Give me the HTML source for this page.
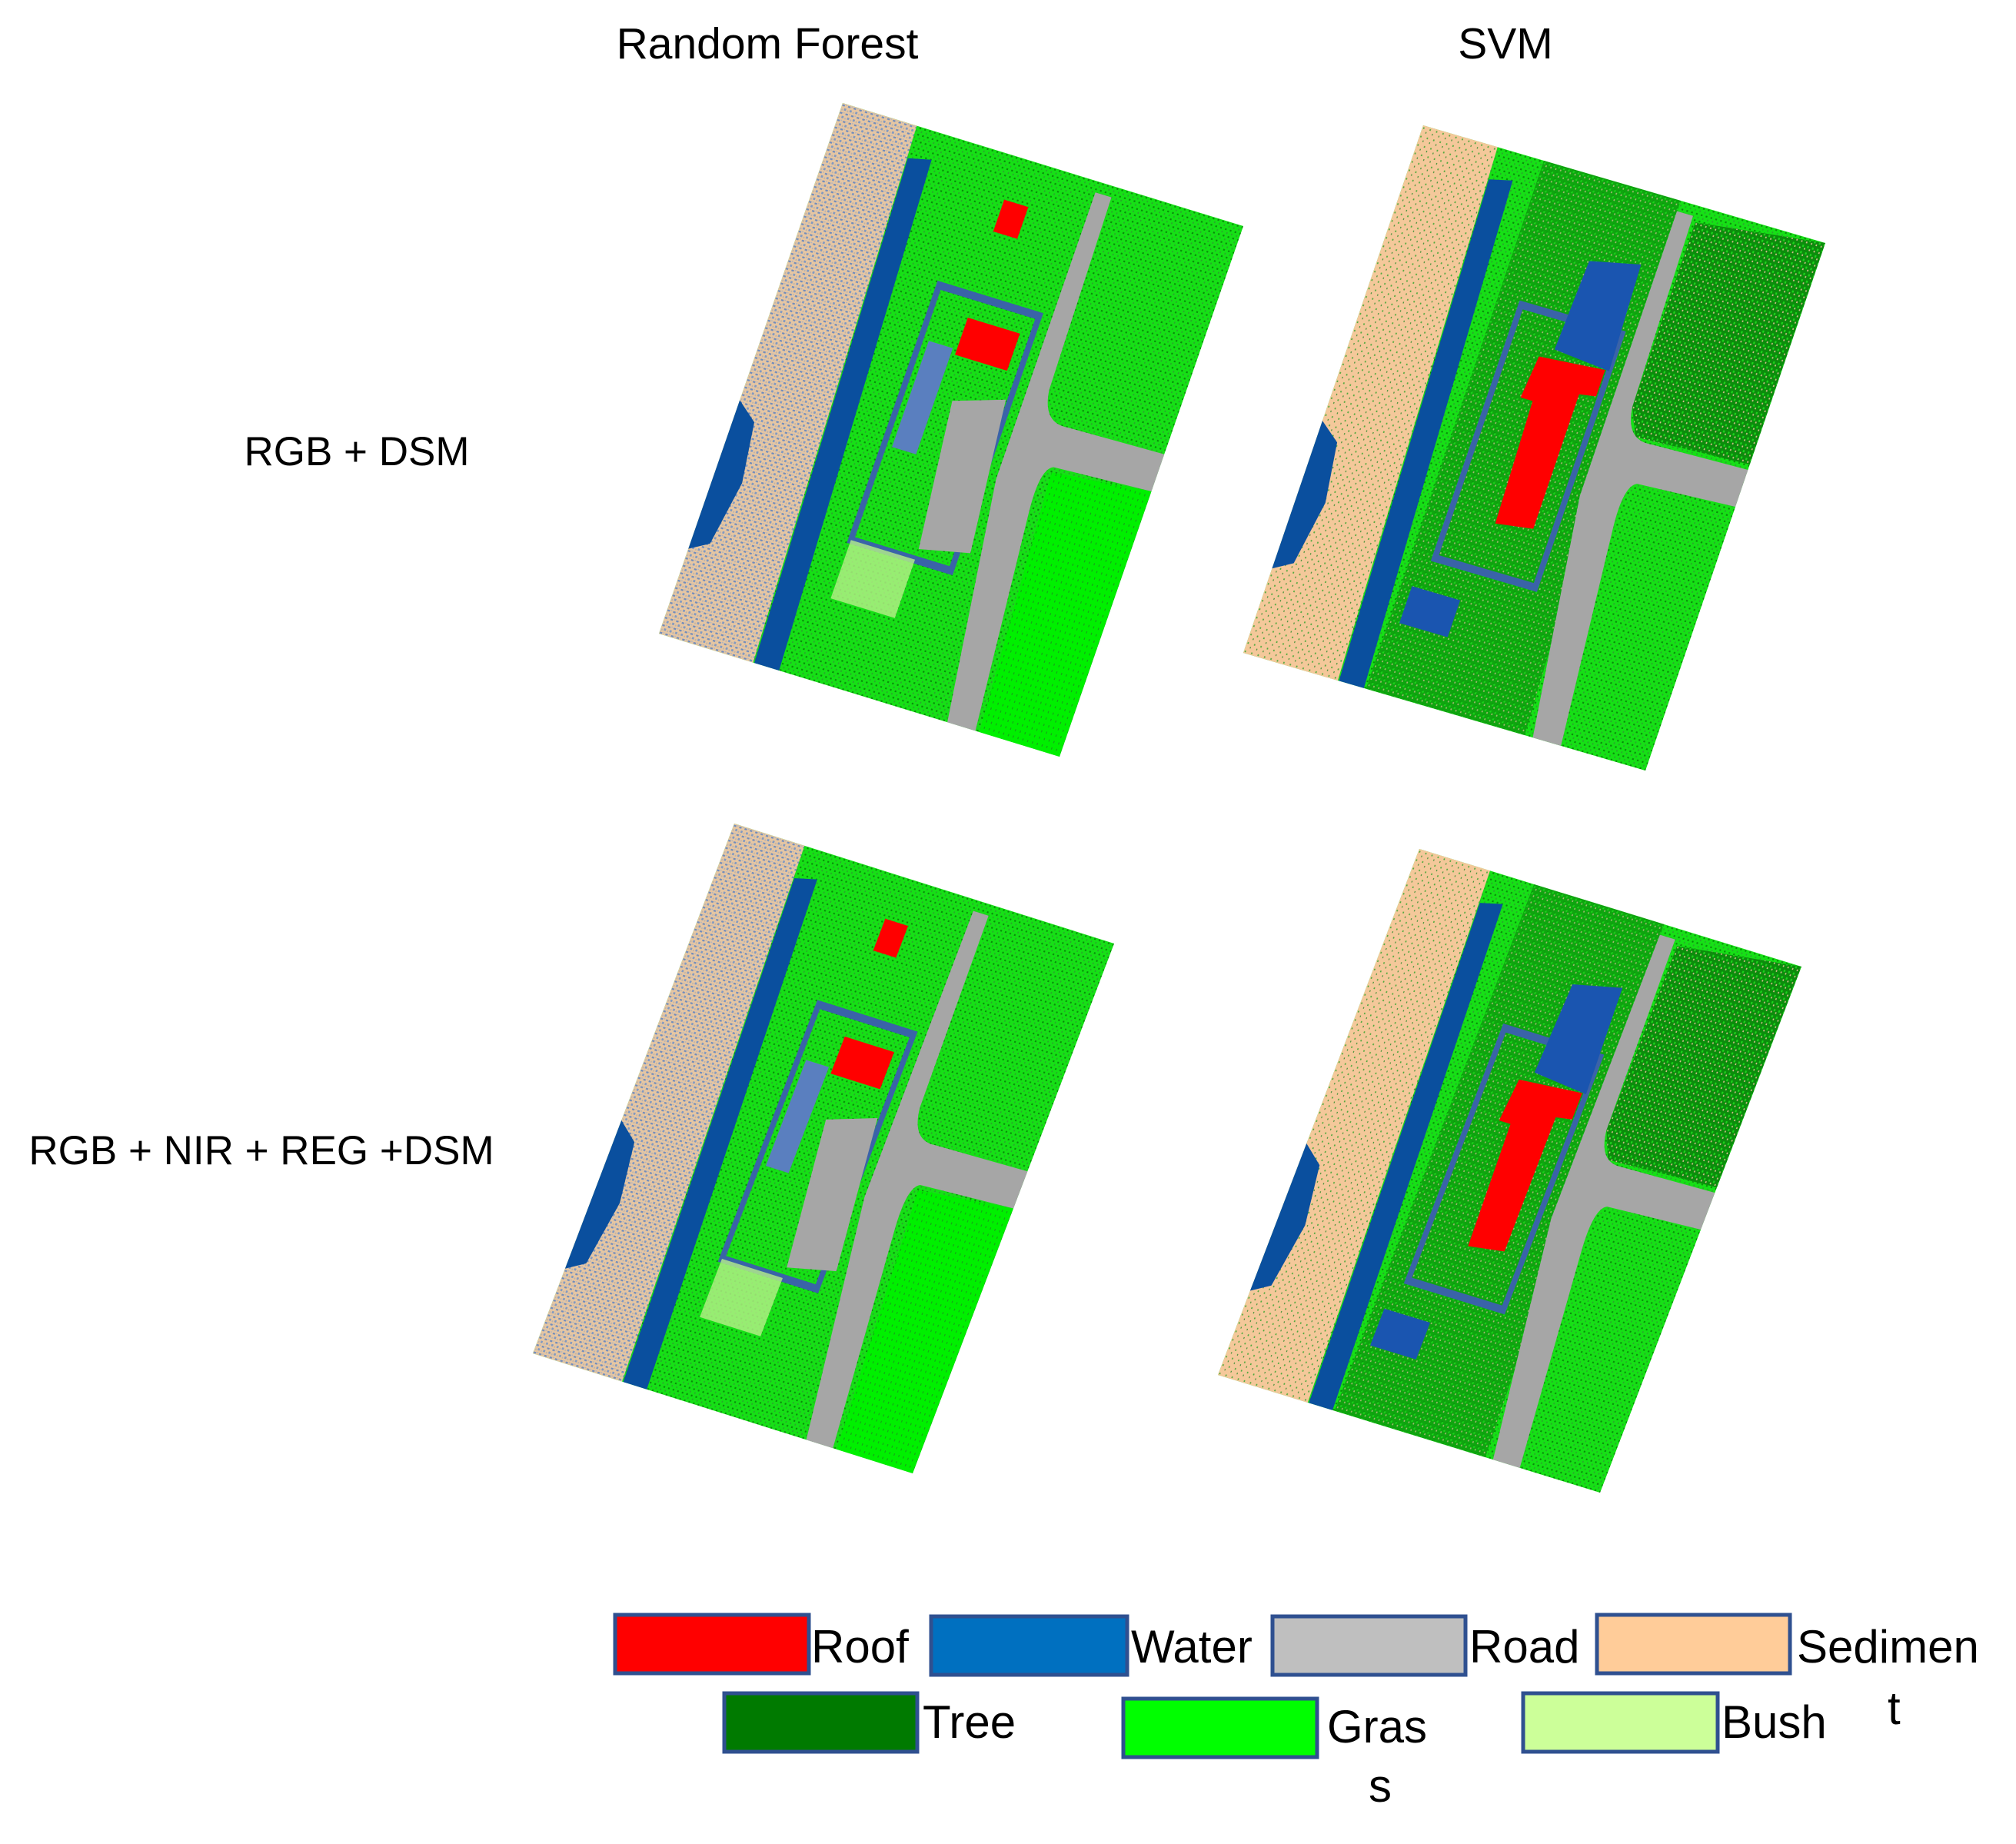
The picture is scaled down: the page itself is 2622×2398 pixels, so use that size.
<!DOCTYPE html>
<html><head><meta charset="utf-8"><style>
html,body{margin:0;padding:0;background:#fff}
svg{display:block}
text{font-family:"Liberation Sans",sans-serif;fill:#000}
</style></head><body>
<svg id="fig" width="2622" height="2398" viewBox="0 0 2622 2398">
<defs>
<pattern id="rfLeft" width="14" height="14" patternUnits="userSpaceOnUse"><rect width="14" height="14" fill="#e6c6a2"/><rect x="1" y="2" width="6" height="3" fill="#6f8cbd"/><rect x="8" y="8" width="5" height="4" fill="#8099c2"/><rect x="9" y="1" width="3" height="2" fill="#a9b2c6"/><rect x="2" y="10" width="3" height="3" fill="#b9b2ad"/></pattern>
<pattern id="svmLeft" width="16" height="16" patternUnits="userSpaceOnUse"><rect width="16" height="16" fill="#f4c89a"/><rect x="2" y="3" width="3" height="3" fill="#4aa83a"/><rect x="11" y="10" width="2" height="3" fill="#2b8a2b"/></pattern>
<pattern id="grassMix" width="12" height="12" patternUnits="userSpaceOnUse"><rect width="12" height="12" fill="#16e016"/><rect x="1" y="1" width="4" height="3" fill="#0a8a0a"/><rect x="7" y="7" width="3" height="3" fill="#2ea02e"/></pattern>
<pattern id="treeMix" width="12" height="12" patternUnits="userSpaceOnUse"><rect width="12" height="12" fill="#0c8c0c"/><rect x="2" y="2" width="4" height="4" fill="#1cd61c"/><rect x="8" y="7" width="3" height="3" fill="#d8c090"/></pattern>
<pattern id="brightGrass" width="12" height="12" patternUnits="userSpaceOnUse"><rect width="12" height="12" fill="#00f000"/><rect x="3" y="4" width="2" height="4" fill="#1a9a1a"/></pattern>
</defs>

<text x="998" y="76" font-size="57" text-anchor="middle">Random Forest</text>
<text x="1958" y="76" font-size="57" text-anchor="middle">SVM</text>
<text x="464" y="605" font-size="53" text-anchor="middle">RGB + DSM</text>
<text x="340" y="1514" font-size="53" text-anchor="middle">RGB + NIR + REG +DSM</text>

<g id="maps"></g>

<g stroke="#2f5090" stroke-width="5" transform="translate(-5,-12)">
<rect x="805" y="2112" width="252" height="76" fill="#ff0000"/>
<rect x="1216" y="2114" width="255" height="76" fill="#0070c0"/>
<rect x="1660" y="2114" width="251" height="76" fill="#bfbfbf"/>
<rect x="2082" y="2112" width="251" height="76" fill="#ffcc99"/>
<rect x="947" y="2214" width="251" height="76" fill="#007a00"/>
<rect x="1466" y="2221" width="252" height="76" fill="#00ff00"/>
<rect x="1986" y="2214" width="253" height="76" fill="#ccff99"/>
</g>
<g font-size="60" transform="translate(-5,-12)">
<text x="1060" y="2174">Roof</text>
<text x="1476" y="2174">Water</text>
<text x="1916" y="2174">Road</text>
<text x="2342" y="2174">Sedimen</text>
<text x="2460" y="2254">t</text>
<text x="1205" y="2272">Tree</text>
<text x="1731" y="2278">Gras</text>
<text x="1785" y="2355">s</text>
<text x="2244" y="2272">Bush</text>
</g>
</svg>
<script>
var mapNames = ['map-rf-rgb-dsm','map-svm-rgb-dsm','map-rf-rgb-nir-reg-dsm','map-svm-rgb-nir-reg-dsm'];
var mapKinds = ['rf','svm','rf','svm'];
// corners: top, right, left
var mapCorners = [
 [[1096,134],[1617,294],[857,824]],
 [[1851,163],[2374,316],[1617,849]],
 [[955,1071],[1449,1227],[693,1760]],
 [[1846,1104],[2343,1257],[1584,1788]]
];
var NS='http://www.w3.org/2000/svg';
function el(tag, attrs, parent){var e=document.createElementNS(NS,tag);for(var k in attrs)e.setAttribute(k,attrs[k]);parent.appendChild(e);return e;}
var root=document.getElementById('maps');
for(var i=0;i<mapNames.length;i++){
 var c=mapCorners[i], t=c[0], r=c[1], l=c[2];
 var m=[(r[0]-t[0])/1000,(r[1]-t[1])/1000,(l[0]-t[0])/1000,(l[1]-t[1])/1000,t[0],t[1]];
 var g=el('g',{transform:'matrix('+m.join(',')+')'},root);
 
 
 var svm=mapKinds[i]==='svm';
 el('rect',{x:0,y:0,width:1000,height:1000,fill:'url(#grassMix)'},g);
 var left=el('polygon',{points:'0,0 185,0 235,1000 0,1000',fill:svm?'url(#svmLeft)':'url(#rfLeft)'},g);
 
 
 el('polygon',{points:'0,560 50,590 70,700 45,820 0,840',fill:'#0a4f9e'},g);
 var ch=el('polygon',{points:'190,60 245,50 300,1000 238,1000',fill:'#0a4f9e'},g);
 
 
 if(svm){el('polygon',{points:'300,0 640,0 700,1000 305,1000',fill:'url(#treeMix)',opacity:'0.7'},g);}
 el('polygon',{points:'690,30 1000,0 1000,420 720,430 690,380',fill:svm?'url(#treeMix)':'url(#grassMix)'},g);
 el('polygon',{points:'760,520 1000,500 1000,1000 800,1000',fill:svm?'url(#grassMix)':'url(#brightGrass)'},g);
 var road=el('path',{d:'M640,20 L680,20 L690,380 Q700,440 760,435 L1000,430 L1000,500 L760,510 Q730,520 740,600 L790,1000 L720,1000 L640,560 Z',fill:'#a6a6a6'},g);
 
 
 el('rect',{x:360,y:260,width:250,height:480,fill:'none',stroke:'#3a63a8',"stroke-width":14},g);
 if(svm){
  el('polygon',{points:'480,150 600,130 610,330 470,320',fill:'#1a55b0'},g);
  var rf=el('polygon',{points:'440,340 600,330 600,380 560,385 560,640 470,650 460,420 430,420',fill:'#ff0000'},g);
  
  
  el('rect',{x:330,y:800,width:120,height:70,fill:'#1a55b0'},g);
 } else {
  var rf2=el('rect',{x:450,y:300,width:130,height:70,fill:'#ff0000'},g);
  
  
  el('rect',{x:440,y:80,width:60,height:60,fill:'#ff0000'},g);
  el('polygon',{points:'480,450 600,420 640,700 520,720',fill:'#a6a6a6'},g);
  el('rect',{x:380,y:360,width:60,height:200,fill:'#5a7fbf'},g);
  el('rect',{x:360,y:740,width:160,height:110,fill:'#b8f08a',opacity:'0.8'},g);
 }
}
</script>
</body></html>
